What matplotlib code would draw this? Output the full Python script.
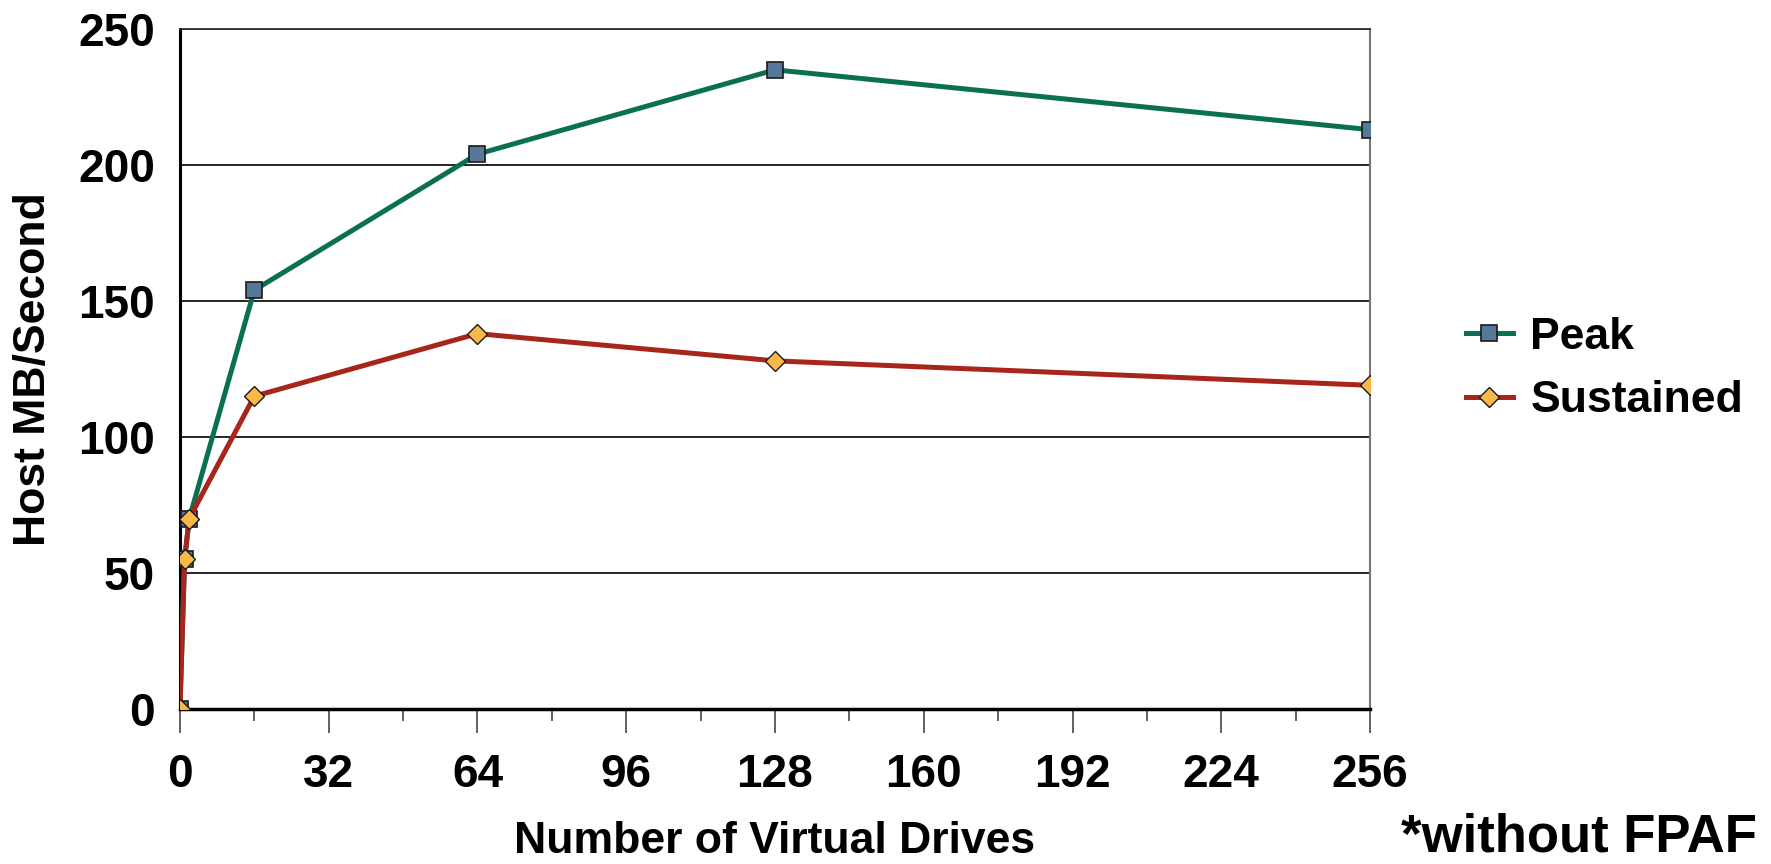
import matplotlib
matplotlib.use('Agg')
import matplotlib.pyplot as plt
from matplotlib.ticker import MultipleLocator

drives = [0, 1, 2, 16, 64, 128, 256]
peak = [0, 55, 70, 154, 204, 235, 213]
sustained = [0, 55, 70, 115, 138, 128, 119]

x_ticks = [0, 32, 64, 96, 128, 160, 192, 224, 256]
y_ticks = [0, 50, 100, 150, 200, 250]

plt.rcParams['font.family'] = ['Liberation Sans', 'DejaVu Sans']
plt.rcParams['font.weight'] = 'bold'

fig = plt.figure(figsize=(17.71, 8.64), dpi=100)
ax = fig.add_axes([0.1016, 0.1794, 0.672, 0.787])

ax.plot(drives, peak, color='#0b7052', lw=3.6, marker='s', ms=11.5,
        mfc='#56799b', mec='#1a1a1a', mew=1.2, label='Peak', zorder=3)
ax.plot(drives, sustained, color='#a8251b', lw=3.6, marker='D', ms=10,
        mfc='#fbb84a', mec='#1a1a1a', mew=1.0, label='Sustained', zorder=4)

ax.set_xlim(0, 256)
ax.set_ylim(0, 250)
ax.set_xticks(x_ticks)
ax.set_yticks(y_ticks)
ax.xaxis.set_minor_locator(MultipleLocator(16))
ax.tick_params(axis='x', which='major', length=17, width=1.3, color='#555555', pad=15)
ax.tick_params(axis='x', which='minor', length=8.5, width=1.3, color='#555555')
ax.tick_params(axis='y', which='both', length=0, pad=18)
for lab in ax.get_xticklabels():
    lab.set_fontsize(33)
    lab.set_fontweight('bold')
for lab in ax.get_yticklabels():
    lab.set_fontsize(33)
    lab.set_fontweight('bold')

ax.grid(axis='y', color='black', lw=1.2)
ax.set_axisbelow(True)
ax.spines['left'].set_linewidth(2.2)
ax.spines['bottom'].set_linewidth(2.5)
ax.spines['top'].set_linewidth(1.3)
ax.spines['top'].set_color('#333333')
ax.spines['right'].set_linewidth(1.5)
ax.spines['right'].set_color('#777777')

ax.set_xlabel('Number of Virtual Drives', fontsize=32, fontweight='bold', va='center')
ax.xaxis.set_label_coords(0.5, -0.195)
ax.set_ylabel('Host MB/Second', fontsize=32, fontweight='bold', va='center')
ax.yaxis.set_label_coords(-0.1227, 0.5)

leg = ax.legend(loc='center left', bbox_to_anchor=(1.047, 0.5), frameon=False,
                fontsize=32, handlelength=1.05, handletextpad=0.4, labelspacing=0.5)
for t in leg.get_texts():
    t.set_fontweight('bold')

fig.text(0.992, 0.002, '*without FPAF', fontsize=38, fontweight='bold',
         ha='right', va='bottom')

fig.savefig('out.png', dpi=100)
